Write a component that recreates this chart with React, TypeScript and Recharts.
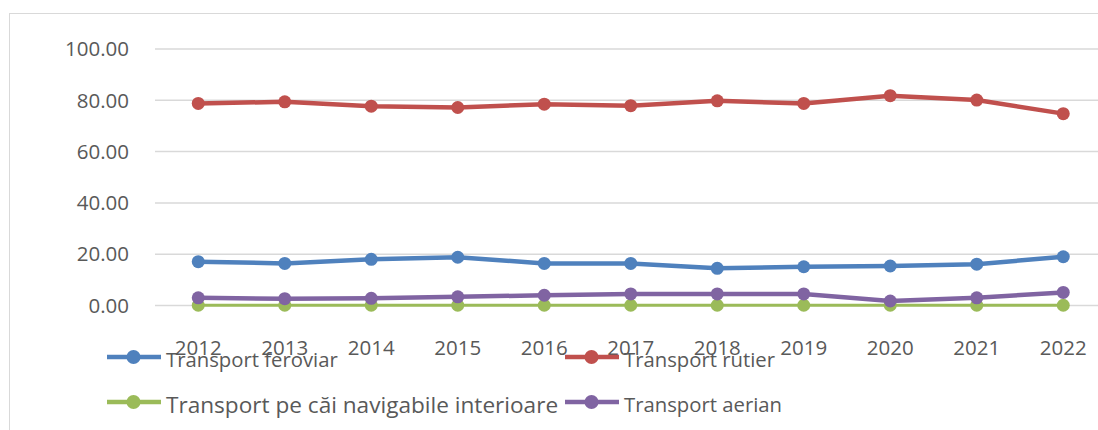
import React from 'react';
import { LineChart, Line, XAxis, YAxis, CartesianGrid } from 'recharts';

const years = ['2012', '2013', '2014', '2015', '2016', '2017', '2018', '2019', '2020', '2021', '2022'];
const feroviar = [17.1, 16.4, 18.0, 18.8, 16.4, 16.4, 14.5, 15.1, 15.4, 16.1, 19.0];
const rutier = [78.8, 79.4, 77.7, 77.2, 78.5, 77.9, 79.8, 78.8, 81.8, 80.1, 74.8];
const navigabile = [0.1, 0.1, 0.1, 0.1, 0.1, 0.1, 0.1, 0.1, 0.1, 0.1, 0.1];
const aerian = [3.0, 2.65, 2.8, 3.4, 4.0, 4.5, 4.5, 4.5, 1.75, 3.0, 5.1];
const yTicks = [0, 20, 40, 60, 80, 100];

const series = [
  { key: 'feroviar', name: 'Transport feroviar', color: '#4F81BD', values: feroviar },
  { key: 'rutier', name: 'Transport rutier', color: '#C0504D', values: rutier },
  { key: 'navigabile', name: 'Transport pe căi navigabile interioare', color: '#9BBB59', values: navigabile },
  { key: 'aerian', name: 'Transport aerian', color: '#8064A2', values: aerian },
];

const data = years.map((year, i) => {
  const row: Record<string, string | number> = { year };
  series.forEach((s) => {
    row[s.key] = s.values[i];
  });
  return row;
});

const FONT = '"Open Sans", sans-serif';
const TEXT = '#595959';

// legend is laid out as a 2x2 grid under the axis
const legendSlots = [
  { left: 107, top: 357, size: 20.3 },
  { left: 565, top: 357, size: 20.3 },
  { left: 107, top: 402, size: 22.6 },
  { left: 565, top: 402, size: 20.3 },
];

function LegendItem({ name, color, left, top, size }: { name: string; color: string; left: number; top: number; size: number }) {
  return (
    <div
      style={{
        position: 'absolute',
        left,
        top: top - 15,
        height: 30,
        display: 'flex',
        alignItems: 'center',
        whiteSpace: 'nowrap',
        fontFamily: FONT,
        fontSize: size,
        color: TEXT,
      }}
    >
      <svg width={54} height={30} style={{ display: 'block' }}>
        <line x1={0} y1={15} x2={54} y2={15} stroke={color} strokeWidth={4.5} />
        <circle cx={26.5} cy={15} r={7} fill={color} />
      </svg>
      <span style={{ marginLeft: 5, position: 'relative', top: 2 }}>{name}</span>
    </div>
  );
}

export default function App() {
  return (
    <div style={{ position: 'absolute', left: 0, top: 0, width: 1098, height: 430, overflow: 'hidden', background: '#fff' }}>
      <div
        style={{
          position: 'absolute',
          left: 9,
          top: 13,
          width: 1110,
          height: 440,
          borderLeft: '1.5px solid #d9d9d9',
          borderTop: '1.5px solid #d9d9d9',
        }}
      />
      <div style={{ position: 'absolute', left: 0, top: 0 }}>
        <LineChart width={1112} height={430} data={data} margin={{ top: 49, right: 5.5, bottom: 94.5, left: 0 }}>
          <CartesianGrid vertical={false} stroke="#d9d9d9" strokeWidth={1.5} />
          <XAxis
            dataKey="year"
            axisLine={false}
            tickLine={false}
            height={30}
            tickMargin={29}
            padding={{ left: 43.25, right: 43.25 }}
            tick={{ fill: TEXT, fontSize: 20.5, fontFamily: FONT }}
            interval={0}
          />
          <YAxis
            domain={[0, 100]}
            ticks={yTicks}
            axisLine={false}
            tickLine={false}
            width={155}
            tickMargin={20}
            tickFormatter={(v: number) => v.toFixed(2)}
            tick={{ fill: TEXT, fontSize: 20.5, fontFamily: FONT }}
          />
          {series.map((s) => (
            <Line
              key={s.key}
              dataKey={s.key}
              name={s.name}
              stroke={s.color}
              strokeWidth={s.key === 'navigabile' ? 3 : 4.5}
              dot={{ r: 6.5, fill: s.color, stroke: s.color, strokeWidth: 0 }}
              activeDot={false}
              isAnimationActive={false}
            />
          ))}
        </LineChart>
      </div>
      {series.map((s, i) => (
        <LegendItem key={s.key} name={s.name} color={s.color} {...legendSlots[i]} />
      ))}
    </div>
  );
}
